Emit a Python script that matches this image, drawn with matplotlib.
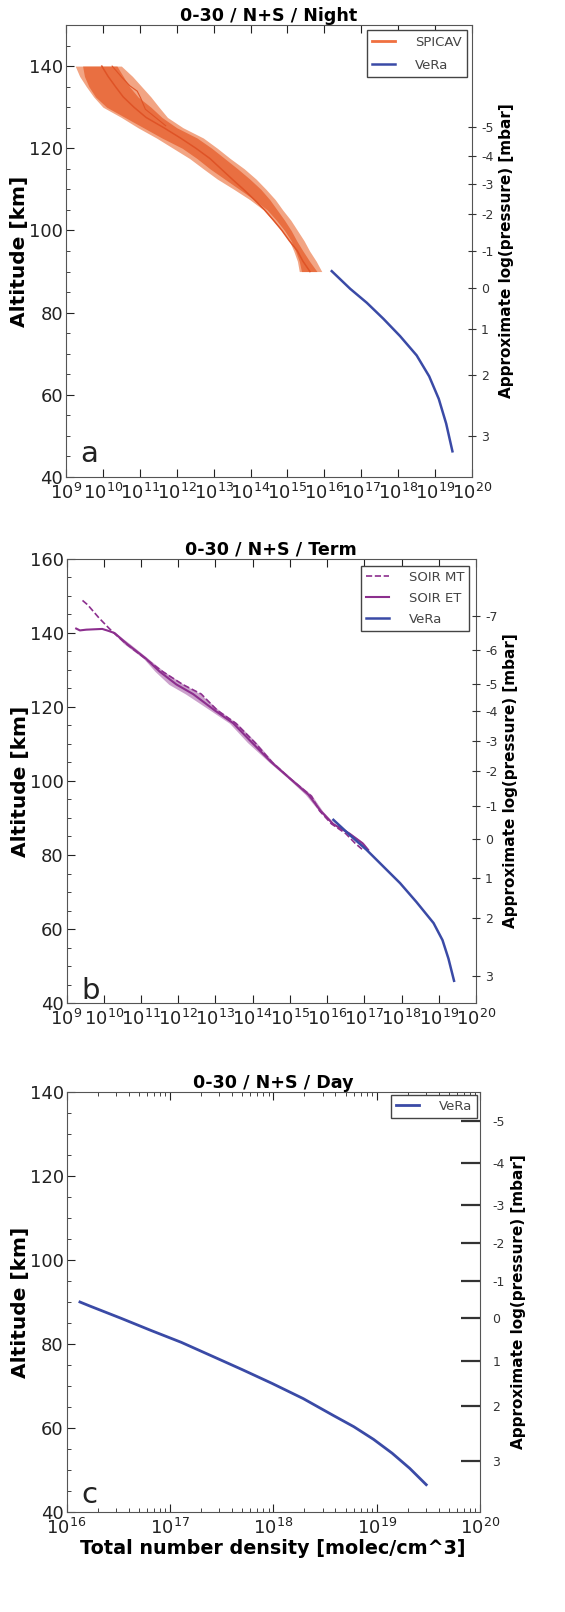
import numpy as np
import matplotlib
matplotlib.use("Agg")
import matplotlib.pyplot as plt
from matplotlib.ticker import MultipleLocator, NullLocator, FixedLocator

# ---------------------------------------------------------------------------
# Data (log10 of total number density [molec/cm^3] vs altitude [km])
# ---------------------------------------------------------------------------
# Panel a: SPICAV night (mean, inner and outer envelopes)
spi_alt = [140, 137.5, 135, 132.5, 130, 127.5, 125, 122.5, 120, 117.5, 115,
           112.5, 110, 107.5, 105, 102.5, 100, 97.5, 95, 92.5, 90]
spi_mean = [9.97, 10.14, 10.34, 10.55, 10.84, 11.17, 11.65, 12.1, 12.52, 12.9,
            13.2, 13.5, 13.81, 14.1, 14.38, 14.62, 14.85, 15.05, 15.27, 15.42, 15.61]
spi_out_lo = [9.25, 9.37, 9.55, 9.75, 10.0, 10.5, 10.95, 11.45, 11.9, 12.35,
              12.72, 13.1, 13.55, 13.98, 14.35, 14.6, 14.85, 15.05, 15.17, 15.27, 15.32]
spi_out_hi = [10.5, 10.8, 11.05, 11.3, 11.52, 11.75, 12.17, 12.72, 13.1, 13.45,
              13.83, 14.15, 14.42, 14.67, 14.87, 15.09, 15.27, 15.45, 15.6, 15.78, 15.93]
spi_in_lo = [9.45, 9.5, 9.62, 9.8, 10.1, 10.6, 11.1, 11.6, 12.15, 12.55, 12.9,
             13.3, 13.7, 14.1, 14.45, 14.7, 14.92, 15.1, 15.22, 15.32, 15.38]
spi_in_hi = [10.38, 10.55, 10.72, 10.95, 11.3, 11.6, 12.0, 12.55, 12.95, 13.3,
             13.65, 13.98, 14.28, 14.52, 14.72, 14.92, 15.1, 15.25, 15.42, 15.6, 15.8]
spi2_alt = [140, 137.2, 135.2, 133.9, 132.3, 129.5, 127.1, 125.5]
spi2_val = [10.25, 10.52, 10.73, 10.93, 11.02, 11.15, 11.48, 11.7]

vera_a_alt = [90.1, 85.8, 82.4, 78.5, 74.3, 69.6, 64.5, 59.0, 53.0, 46.25]
vera_a_val = [16.2, 16.7, 17.15, 17.6, 18.05, 18.5, 18.84, 19.1, 19.3, 19.47]

# Panel b: SOIR terminator (ET solid, MT dashed) and VeRa
et_alt = [141.2, 140.7, 140.9, 141.1, 140.6, 140.0, 137.1, 133.2, 129.6, 126.1,
          123.5, 119.1, 115.6, 110.4, 105.1, 100.7, 96.3, 91.9, 88.4, 85.8,
          83.2, 81.4]
et_val = [9.26, 9.36, 9.53, 9.96, 10.12, 10.29, 10.62, 11.12, 11.5, 11.95,
          12.4, 12.98, 13.48, 13.98, 14.5, 15.0, 15.5, 15.83, 16.16, 16.6,
          16.95, 17.1]
et_spread = [0.01, 0.01, 0.01, 0.01, 0.02, 0.03, 0.08, 0.06, 0.12, 0.2, 0.2,
             0.12, 0.1, 0.12, 0.06, 0.05, 0.08, 0.05, 0.04, 0.04, 0.04, 0.03]
mt_alt = [148.8, 147.6, 144.1, 141.5, 140.2, 137.1, 133.2, 129.6, 126.1, 123.5,
          119.1, 115.6, 110.4, 105.1, 100.7, 95.9, 91.9, 88.4, 85.8, 83.2, 81.2]
mt_val = [9.43, 9.57, 9.87, 10.12, 10.25, 10.6, 11.1, 11.58, 12.12, 12.62,
          13.05, 13.55, 14.06, 14.52, 15.0, 15.58, 15.8, 16.12, 16.5, 16.75, 16.98]
vera_b_alt = [89.5, 85.5, 81.4, 77.0, 72.4, 67.3, 61.6, 57.0, 52.0, 46.0]
vera_b_val = [16.17, 16.6, 17.06, 17.5, 17.96, 18.4, 18.86, 19.1, 19.26, 19.41]

# Panel c: VeRa day
vera_c_alt = [90.0, 89.0, 86.1, 83.2, 80.4, 77.1, 73.9, 70.6, 67.0, 63.0, 60.3,
              57.3, 54.0, 50.4, 46.5]
vera_c_val = [16.13, 16.23, 16.53, 16.82, 17.11, 17.41, 17.7, 17.99, 18.29, 18.58,
              18.78, 18.97, 19.15, 19.32, 19.48]

# Approximate log(pressure) ticks: altitude of each tick per panel
p_labels_a = [-5, -4, -3, -2, -1, 0, 1, 2, 3]
p_alt_a = [125.1, 118.1, 111.2, 104.0, 94.95, 86.0, 75.9, 64.9, 49.9]
p_labels_b = [-7, -6, -5, -4, -3, -2, -1, 0, 1, 2, 3]
p_alt_b = [144.5, 135.5, 126.2, 118.8, 110.9, 102.6, 93.3, 84.3, 73.9, 62.9, 47.3]
p_labels_c = [-5, -4, -3, -2, -1, 0, 1, 2, 3]
p_alt_c = [133.2, 123.1, 113.0, 104.0, 95.1, 86.2, 75.9, 65.2, 52.1]

decades_ab = [1e9, 1e10, 1e11, 1e12, 1e13, 1e14, 1e15, 1e16, 1e17, 1e18, 1e19, 1e20]

titles = ["0-30 / N+S / Night", "0-30 / N+S / Term", "0-30 / N+S / Day"]

ORANGE_LIGHT = "#f2a584"
ORANGE_DARK = "#e96f41"
ORANGE_LINE = "#df5326"
PURPLE = "#8c2f8e"
BLUE = "#3a4aa6"

W, H = 565, 1612
fig = plt.figure(figsize=(W / 100, H / 100), dpi=100)


def box(l, t, r, b):
    return [l / W, 1 - b / H, (r - l) / W, (b - t) / H]


def style(ax, xlim, ylim, ptick_alt, ptick_lab, title, letter, letter_y,
          right_in=False, every_decade=True):
    ax.set_xscale("log")
    ax.set_xlim(*xlim)
    ax.set_ylim(*ylim)
    if every_decade:
        ax.xaxis.set_major_locator(FixedLocator(decades_ab))
        ax.xaxis.set_minor_locator(NullLocator())
    ax.yaxis.set_major_locator(MultipleLocator(20))
    ax.yaxis.set_minor_locator(MultipleLocator(5))
    ax.tick_params(which="both", direction="in", top=True, right=False,
                   labelsize=13, colors="#222222")
    ax.tick_params(axis="y", pad=2)
    ax.tick_params(axis="x", pad=4)
    ax.tick_params(which="major", length=6)
    ax.tick_params(which="minor", length=3)
    for s in ax.spines.values():
        s.set_color("#555555")
    ax.set_ylabel("Altitude [km]", fontsize=14.5, fontweight="bold", labelpad=0)
    ax.set_title(title, fontsize=12.6, fontweight="bold", pad=3)
    ax.text(0.036, letter_y, letter, transform=ax.transAxes, fontsize=21,
            ha="left", va="baseline", color="#222222")
    ax2 = ax.twinx()
    ax2.set_ylim(*ylim)
    ax2.set_yticks(ptick_alt)
    ax2.set_yticklabels([str(v) for v in ptick_lab])
    if right_in:
        ax2.tick_params(direction="in", length=14, width=1.6, labelsize=9,
                        colors="#333333", pad=9)
    else:
        ax2.tick_params(direction="inout", length=6, labelsize=9,
                        colors="#333333")
    ax2.set_ylabel("Approximate log(pressure) [mbar]", fontsize=11,
                   fontweight="bold", labelpad=4)
    for s in ax2.spines.values():
        s.set_visible(False)
    return ax2


def legend(ax, pad, size, spacing=0.8):
    ax.legend(loc="upper right", fontsize=size, fancybox=False, framealpha=1,
              edgecolor="#444444", borderaxespad=pad, handlelength=1.7,
              handletextpad=1.5, labelspacing=spacing, labelcolor="#444444")


# ---------------------------------------------------------------------------
# Panel a
# ---------------------------------------------------------------------------
ax = fig.add_axes(box(66, 25, 472, 477))
ax.fill_betweenx(spi_alt, 10 ** np.array(spi_out_lo), 10 ** np.array(spi_out_hi),
                 color=ORANGE_LIGHT, lw=0)
ax.fill_betweenx(spi_alt, 10 ** np.array(spi_in_lo), 10 ** np.array(spi_in_hi),
                 color=ORANGE_DARK, lw=0)
ax.plot(10 ** np.array(spi_mean), spi_alt, color=ORANGE_LINE, lw=1.1)
ax.plot(10 ** np.array(spi2_val), spi2_alt, color=ORANGE_LINE, lw=0.8)
ax.plot([], [], color="#f07040", lw=2, label="SPICAV")
ax.plot(10 ** np.array(vera_a_val), vera_a_alt, color=BLUE, lw=1.8, label="VeRa")
style(ax, (1e9, 1e20), (40, 150), p_alt_a, p_labels_a, titles[0], "a", 0.033)
legend(ax, 0.4, 9.5)

# ---------------------------------------------------------------------------
# Panel b
# ---------------------------------------------------------------------------
ax = fig.add_axes(box(66.5, 559, 476, 1003))
et = np.array(et_val)
sp = np.array(et_spread)
ax.fill_betweenx(et_alt, 10 ** (et - sp), 10 ** (et + sp), color=PURPLE,
                 alpha=0.45, lw=0)
ax.plot(10 ** np.array(mt_val), mt_alt, color=PURPLE, lw=1.2, ls="--",
        label="SOIR MT")
ax.plot(10 ** et, et_alt, color=PURPLE, lw=1.5, label="SOIR ET")
ax.plot(10 ** np.array(vera_b_val), vera_b_alt, color=BLUE, lw=1.8, label="VeRa")
style(ax, (1e9, 1e20), (40, 160), p_alt_b, p_labels_b, titles[1], "b", 0.008)
legend(ax, 0.5, 9.5, spacing=0.6)

# ---------------------------------------------------------------------------
# Panel c
# ---------------------------------------------------------------------------
ax = fig.add_axes(box(66.5, 1092, 480, 1512))
ax.plot(10 ** np.array(vera_c_val), vera_c_alt, color=BLUE, lw=2.0, label="VeRa")
style(ax, (1e16, 1e20), (40, 140), p_alt_c, p_labels_c, titles[2], "c", 0.022,
      right_in=True, every_decade=False)
ax.set_xlabel("Total number density [molec/cm^3]", fontsize=13.8,
              fontweight="bold", labelpad=1)
legend(ax, 0.2, 9.5)

fig.savefig("out.png", dpi=100)
